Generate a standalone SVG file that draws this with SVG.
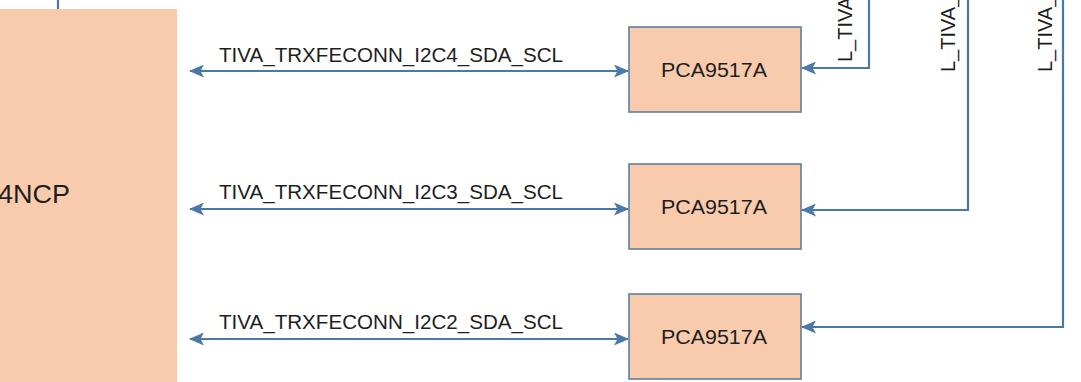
<svg xmlns="http://www.w3.org/2000/svg" width="1081" height="382" viewBox="0 0 1081 382">
  <defs>
    <style>
      .blk { fill: #F8CBAD; }
      .pca { fill: #F8CBAD; stroke: #5F7F9F; stroke-width: 1.6; }
      .wire { fill: none; stroke: #4A78A8; stroke-width: 2.2; }
      .lbl { font-family: "Liberation Sans", Arial, sans-serif; font-size: 20px; fill: #1E1E1E; }
      .big { font-family: "Liberation Sans", Arial, sans-serif; font-size: 26px; fill: #1E1E1E; }
    </style>
    <marker id="ah" markerUnits="userSpaceOnUse" markerWidth="15" markerHeight="13" refX="14" refY="6.5" orient="auto-start-reverse" viewBox="0 0 15 13">
      <path d="M0,0 L15,6.5 L0,13 L3.5,6.5 z" fill="#4A78A8"/>
    </marker>
  </defs>

  <g id="mcu">
    <rect class="blk" x="-5" y="9" width="182" height="380"/>
    <text class="big" x="-2" y="203" textLength="72" lengthAdjust="spacingAndGlyphs">4NCP</text>
  </g>

  <g id="pca1">
    <rect class="pca" x="629" y="27" width="172" height="85"/>
    <text class="lbl" x="714" y="77" text-anchor="middle" textLength="106" lengthAdjust="spacingAndGlyphs">PCA9517A</text>
  </g>
  <g id="pca2">
    <rect class="pca" x="629" y="164" width="172" height="85"/>
    <text class="lbl" x="714" y="214" text-anchor="middle" textLength="106" lengthAdjust="spacingAndGlyphs">PCA9517A</text>
  </g>
  <g id="pca3">
    <rect class="pca" x="629" y="294" width="172" height="85"/>
    <text class="lbl" x="714" y="344" text-anchor="middle" textLength="106" lengthAdjust="spacingAndGlyphs">PCA9517A</text>
  </g>

  <g id="connectors">
    <line class="wire" x1="58" y1="0" x2="58" y2="9"/>
    <line class="wire" x1="190" y1="71" x2="628" y2="71" marker-start="url(#ah)" marker-end="url(#ah)"/>
    <line class="wire" x1="190" y1="209" x2="628" y2="209" marker-start="url(#ah)" marker-end="url(#ah)"/>
    <line class="wire" x1="190" y1="339" x2="628" y2="339" marker-start="url(#ah)" marker-end="url(#ah)"/>
    <path class="wire" d="M869,-2 V68 H802" marker-end="url(#ah)"/>
    <path class="wire" d="M968,-2 V210 H802" marker-end="url(#ah)"/>
    <path class="wire" d="M1063,-2 V327 H802" marker-end="url(#ah)"/>
  </g>

  <g id="labels">
    <text class="lbl" x="219" y="62" textLength="344" lengthAdjust="spacingAndGlyphs">TIVA_TRXFECONN_I2C4_SDA_SCL</text>
    <text class="lbl" x="219" y="199" textLength="344" lengthAdjust="spacingAndGlyphs">TIVA_TRXFECONN_I2C3_SDA_SCL</text>
    <text class="lbl" x="219" y="329" textLength="344" lengthAdjust="spacingAndGlyphs">TIVA_TRXFECONN_I2C2_SDA_SCL</text>
    <text class="lbl" transform="translate(852,62) rotate(-90)">L_TIVA</text>
    <text class="lbl" transform="translate(955,72) rotate(-90)">L_TIVA_</text>
    <text class="lbl" transform="translate(1052,72) rotate(-90)">L_TIVA_</text>
  </g>
</svg>
